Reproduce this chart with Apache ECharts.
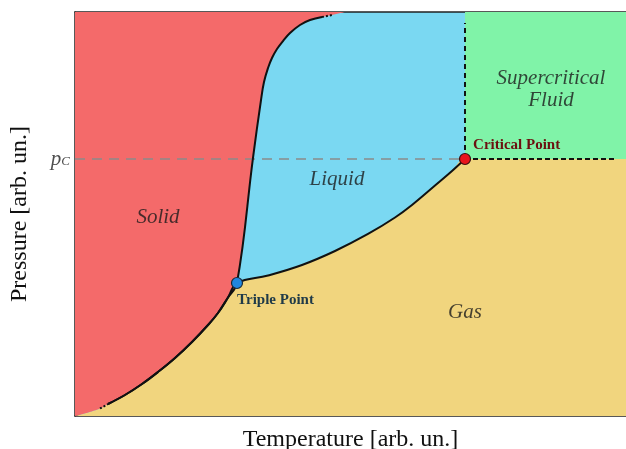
<!DOCTYPE html>
<html>
<head>
<meta charset="utf-8">
<script src="https://cdn.jsdelivr.net/npm/echarts@6/dist/echarts.min.js"></script>
<style>html,body{margin:0;padding:0;background:#fff;}#c{width:626px;height:449px;}</style>
</head>
<body>
<div id="c"></div>
<script>
// Sublimation curve (solid-gas), temperature / pressure in arbitrary units
const subT = [0, 1.45, 4.54, 5.99, 9.07, 12.16, 15.06, 18.15, 21.23, 24.14, 25.95, 27.77, 29.40];
const subP = [0, 0.50, 1.86, 2.97, 5.20, 7.92, 10.89, 14.36, 18.32, 22.52, 25.50, 29.33, 32.92];
// Melting curve (solid-liquid)
const meltT = [29.40, 32.30, 33.76, 34.30, 35.03, 35.75, 36.66, 37.75, 39.02, 40.83, 42.65, 44.83, 46.64, 49.00];
const meltP = [32.92, 63.86, 78.22, 82.67, 86.14, 88.61, 90.84, 92.82, 94.80, 96.78, 98.02, 98.76, 99.26, 100];
// Vaporization curve (liquid-gas)
const vapT = [29.40, 35.03, 41.20, 47.19, 53.18, 58.08, 61.16, 65.34, 68.42, 70.78];
const vapP = [32.92, 34.78, 37.38, 40.84, 45.05, 49.13, 52.23, 57.05, 60.64, 63.61];
// Special points
const triplePoint = [29.40, 32.92];
const criticalPoint = [70.78, 63.61];
const axisMax = 100;
const dashEndT = 98.0;
const vertDashTopP = 97.3;
const regionNames = ['Solid', 'Liquid', 'Gas', 'Supercritical\nFluid'];

const zip = (a, b) => a.map((v, i) => [v, b[i]]);
const sub = zip(subT, subP);
const melt = zip(meltT, meltP);
const vap = zip(vapT, vapP);
const Tc = criticalPoint[0], Pc = criticalPoint[1];

// corners are repeated so that smoothing keeps them sharp
const redArea = sub.concat(melt);
const gasArea = sub.concat(vap).concat([criticalPoint, [axisMax, Pc]]);
const lineSolidLiquid = sub.slice(3).concat(melt.slice(0, 12));
const lineLiquidGas = sub.slice(3).concat(vap).concat([criticalPoint]);

const SERIF = '"Liberation Serif", "DejaVu Serif", serif';
const regionPos = [[15.06, 49.26], [47.55, 58.66], [70.78, 25.50], [86.39, 80.7]];
const SM = 0.4;

const chart = echarts.init(document.getElementById('c'), null, {renderer: 'canvas'});
const noSym = {symbol: 'none', silent: true, animation: false};
chart.setOption({
  animation: false,
  grid: {left: 75, top: 12, right: 0, bottom: 33, show: true, backgroundColor: '#7ad8f2', borderWidth: 0,
    containLabel: false, outerBoundsMode: 'none'},
  xAxis: [{
    type: 'value', min: 0, max: axisMax,
    name: 'Temperature [arb. un.]', nameLocation: 'middle', nameGap: 12,
    nameTextStyle: {fontFamily: SERIF, fontSize: 24, color: '#111', verticalAlign: 'top'},
    axisLine: {show: true, lineStyle: {color: '#222', width: 1.5}},
    axisTick: {show: false}, axisLabel: {show: false}, splitLine: {show: false}
  }, {
    type: 'value', min: 0, max: axisMax, position: 'top',
    axisLine: {show: true, lineStyle: {color: '#222', width: 1.5}},
    axisTick: {show: false}, axisLabel: {show: false}, splitLine: {show: false}
  }],
  yAxis: {
    type: 'value', min: 0, max: axisMax,
    name: 'Pressure [arb. un.]', nameLocation: 'middle', nameGap: 43,
    nameTextStyle: {fontFamily: SERIF, fontSize: 24, color: '#111'},
    axisLine: {show: true, lineStyle: {color: '#222', width: 1.5}},
    axisTick: {show: false}, axisLabel: {show: false}, splitLine: {show: false}
  },
  series: [
    // Supercritical fluid region
    Object.assign({type: 'line', z: 1, data: [[Tc, axisMax], [axisMax, axisMax]],
      lineStyle: {width: 0}, areaStyle: {color: '#80f3a8', opacity: 1, origin: 'start'}}, noSym),
    // Gas region
    Object.assign({type: 'line', z: 2, data: gasArea, smooth: SM,
      lineStyle: {width: 0}, areaStyle: {color: '#f1d57e', opacity: 1, origin: 'start'}}, noSym),
    // Solid region
    Object.assign({type: 'line', z: 3, data: redArea, smooth: SM,
      lineStyle: {width: 0}, areaStyle: {color: '#f46a6a', opacity: 1, origin: 'end'}}, noSym),
    // p_C gray dashed
    Object.assign({type: 'line', z: 4, data: [[0, Pc], [Tc, Pc]],
      lineStyle: {color: '#8a8a8a', width: 1.6, type: [10, 7]}}, noSym),
    // black dashed lines
    Object.assign({type: 'line', z: 4, data: [[Tc, Pc], [dashEndT, Pc]],
      lineStyle: {color: '#111', width: 2, type: [5, 3]}}, noSym),
    Object.assign({type: 'line', z: 4, data: [[Tc, Pc], [Tc, vertDashTopP]],
      lineStyle: {color: '#111', width: 2, type: [5, 4]}}, noSym),
    // phase boundaries
    Object.assign({type: 'line', z: 5, data: lineSolidLiquid, smooth: SM,
      lineStyle: {color: '#111', width: 2}}, noSym),
    Object.assign({type: 'line', z: 5, data: lineLiquidGas, smooth: SM,
      lineStyle: {color: '#111', width: 2}}, noSym),
    Object.assign({type: 'line', z: 5, data: sub.slice(2, 4),
      lineStyle: {color: '#111', width: 2, type: [2, 2]}}, noSym),
    Object.assign({type: 'line', z: 5, data: melt.slice(11, 13),
      lineStyle: {color: '#111', width: 2, type: [2, 2]}}, noSym),
    // triple point
    {type: 'scatter', z: 6, silent: true, data: [triplePoint], symbolSize: 11,
      itemStyle: {color: '#1f86e0', borderColor: '#1a2a3a', borderWidth: 1.2, opacity: 1},
      label: {show: true, formatter: 'Triple Point', position: 'right', distance: 0, offset: [-6, 17],
        fontFamily: SERIF, fontSize: 15, fontWeight: 'bold', color: '#1f3a48'}},
    // critical point
    {type: 'scatter', z: 6, silent: true, data: [criticalPoint], symbolSize: 11,
      itemStyle: {color: '#e8141b', borderColor: '#3a1010', borderWidth: 1.2, opacity: 1},
      label: {show: true, formatter: 'Critical Point', position: 'right', distance: 2, offset: [0, -14],
        fontFamily: SERIF, fontSize: 15, fontWeight: 'bold', color: '#6b1010'}},
    // p_C label
    {type: 'scatter', z: 6, silent: true, data: [[0, Pc]], symbolSize: 0,
      label: {show: true, position: 'left', distance: 5, formatter: '{p|p}{c|C}',
        rich: {p: {fontFamily: SERIF, fontStyle: 'italic', fontSize: 21, color: '#222'},
               c: {fontFamily: SERIF, fontStyle: 'italic', fontSize: 13, color: '#222', padding: [6, 0, 0, 0]}}}},
    // region names
    {type: 'scatter', z: 6, silent: true, symbolSize: 0,
      data: regionPos.map((p, i) => ({value: p, name: regionNames[i]})),
      label: {show: true, position: 'inside', formatter: '{b}', align: 'center',
        fontFamily: SERIF, fontStyle: 'italic', fontSize: 21, lineHeight: 22, color: '#1a1a1a'}}
  ]
});
</script>
</body>
</html>
